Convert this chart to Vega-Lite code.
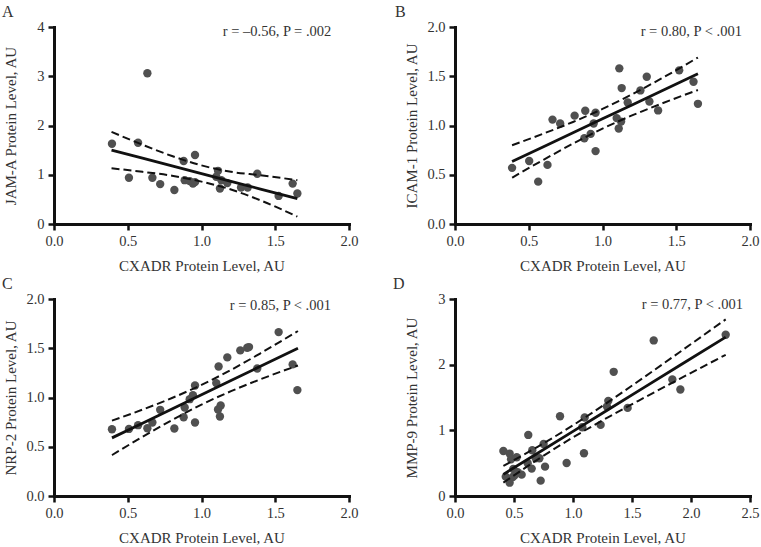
{
  "$schema": "https://vega.github.io/schema/vega-lite/v6.json",
  "background": "white",
  "padding": {"left": 2, "top": 4, "right": 0, "bottom": 0},
  "bounds": "flush",
  "columns": 2,
  "spacing": {"row": 75, "column": 106},
  "config": {
    "view": {"stroke": null},
    "font": "Liberation Serif",
    "axis": {
      "grid": false,
      "domainColor": "#111111",
      "domainWidth": 3,
      "domainCap": "square",
      "tickColor": "#111111",
      "tickWidth": 2.5,
      "tickSize": 6,
      "labelFont": "Liberation Serif",
      "labelFontSize": 14.5,
      "labelColor": "#333333",
      "labelPadding": 4,
      "labelFlush": false,
      "labelOverlap": false,
      "titleFont": "Liberation Serif",
      "titleFontSize": 15,
      "titleFontWeight": "normal",
      "titleColor": "#333333",
      "titleBaseline": "alphabetic"
    },
    "axisX": {"titleY": 46},
    "axisY": {"titleX": -39},
    "title": {"font": "Liberation Serif", "fontSize": 16, "fontWeight": "normal", "anchor": "start", "frame": "group", "color": "#333333", "offset": -1}
  },
  "datasets": {
    "pA": [
      {"x": 0.393, "y": 1.63}, {"x": 0.57, "y": 1.65}, {"x": 0.508, "y": 0.94}, {"x": 0.633, "y": 3.06},
      {"x": 0.667, "y": 0.94}, {"x": 0.72, "y": 0.81}, {"x": 0.816, "y": 0.69}, {"x": 0.879, "y": 1.28},
      {"x": 0.886, "y": 0.89}, {"x": 0.92, "y": 0.87}, {"x": 0.942, "y": 0.82}, {"x": 0.956, "y": 0.85},
      {"x": 0.956, "y": 1.40}, {"x": 1.112, "y": 1.08}, {"x": 1.10, "y": 0.96}, {"x": 1.135, "y": 0.89},
      {"x": 1.125, "y": 0.72}, {"x": 1.175, "y": 0.83}, {"x": 1.268, "y": 0.74}, {"x": 1.313, "y": 0.74},
      {"x": 1.378, "y": 1.02}, {"x": 1.523, "y": 0.57}, {"x": 1.618, "y": 0.82}, {"x": 1.65, "y": 0.62}
    ],
    "lA": [
      {"x": 0.39, "fit": 1.50, "upper": 1.87, "lower": 1.13},
      {"x": 0.6, "fit": 1.338, "upper": 1.61, "lower": 1.06},
      {"x": 0.8, "fit": 1.181, "upper": 1.38, "lower": 0.98},
      {"x": 1.0, "fit": 1.024, "upper": 1.19, "lower": 0.86},
      {"x": 1.2, "fit": 0.867, "upper": 1.06, "lower": 0.70},
      {"x": 1.4, "fit": 0.71, "upper": 0.99, "lower": 0.48},
      {"x": 1.65, "fit": 0.515, "upper": 0.89, "lower": 0.15}
    ],
    "pB": [
      {"x": 0.387, "y": 0.57}, {"x": 0.503, "y": 0.64}, {"x": 0.564, "y": 0.43}, {"x": 0.627, "y": 0.60},
      {"x": 0.661, "y": 1.06}, {"x": 0.713, "y": 1.02}, {"x": 0.811, "y": 1.10}, {"x": 0.877, "y": 0.87},
      {"x": 0.883, "y": 1.15}, {"x": 0.92, "y": 0.915}, {"x": 0.94, "y": 1.02}, {"x": 0.953, "y": 1.13},
      {"x": 0.953, "y": 0.74}, {"x": 1.096, "y": 1.075}, {"x": 1.11, "y": 0.97}, {"x": 1.114, "y": 1.58},
      {"x": 1.126, "y": 1.04}, {"x": 1.13, "y": 1.38}, {"x": 1.171, "y": 1.234}, {"x": 1.257, "y": 1.356},
      {"x": 1.30, "y": 1.495}, {"x": 1.318, "y": 1.244}, {"x": 1.377, "y": 1.153}, {"x": 1.52, "y": 1.56},
      {"x": 1.617, "y": 1.444}, {"x": 1.647, "y": 1.22}
    ],
    "lB": [
      {"x": 0.387, "fit": 0.635, "upper": 0.80, "lower": 0.47},
      {"x": 0.6, "fit": 0.785, "upper": 0.918, "lower": 0.652},
      {"x": 0.8, "fit": 0.926, "upper": 1.036, "lower": 0.816},
      {"x": 1.0, "fit": 1.068, "upper": 1.168, "lower": 0.968},
      {"x": 1.2, "fit": 1.209, "upper": 1.316, "lower": 1.102},
      {"x": 1.4, "fit": 1.35, "upper": 1.478, "lower": 1.222},
      {"x": 1.647, "fit": 1.525, "upper": 1.69, "lower": 1.36}
    ],
    "pC": [
      {"x": 0.393, "y": 0.678}, {"x": 0.508, "y": 0.681}, {"x": 0.57, "y": 0.719}, {"x": 0.633, "y": 0.688},
      {"x": 0.667, "y": 0.746}, {"x": 0.72, "y": 0.875}, {"x": 0.816, "y": 0.685}, {"x": 0.879, "y": 0.80},
      {"x": 0.886, "y": 0.898}, {"x": 0.92, "y": 0.983}, {"x": 0.942, "y": 1.024}, {"x": 0.956, "y": 1.122},
      {"x": 0.956, "y": 0.746}, {"x": 1.10, "y": 1.146}, {"x": 1.112, "y": 0.878}, {"x": 1.116, "y": 1.315},
      {"x": 1.13, "y": 0.919}, {"x": 1.125, "y": 0.807}, {"x": 1.175, "y": 1.407}, {"x": 1.263, "y": 1.478},
      {"x": 1.31, "y": 1.505}, {"x": 1.322, "y": 1.512}, {"x": 1.378, "y": 1.295}, {"x": 1.523, "y": 1.664},
      {"x": 1.618, "y": 1.336}, {"x": 1.65, "y": 1.075}
    ],
    "lC": [
      {"x": 0.393, "fit": 0.59, "upper": 0.765, "lower": 0.415},
      {"x": 0.6, "fit": 0.739, "upper": 0.877, "lower": 0.601},
      {"x": 0.8, "fit": 0.883, "upper": 0.995, "lower": 0.771},
      {"x": 1.0, "fit": 1.028, "upper": 1.128, "lower": 0.928},
      {"x": 1.2, "fit": 1.172, "upper": 1.28, "lower": 1.064},
      {"x": 1.4, "fit": 1.317, "upper": 1.449, "lower": 1.185},
      {"x": 1.654, "fit": 1.50, "upper": 1.675, "lower": 1.325}
    ],
    "pD": [
      {"x": 0.41, "y": 0.686}, {"x": 0.463, "y": 0.646}, {"x": 0.475, "y": 0.559}, {"x": 0.43, "y": 0.295},
      {"x": 0.463, "y": 0.203}, {"x": 0.494, "y": 0.412}, {"x": 0.503, "y": 0.31}, {"x": 0.523, "y": 0.59},
      {"x": 0.531, "y": 0.361}, {"x": 0.565, "y": 0.325}, {"x": 0.616, "y": 0.498}, {"x": 0.621, "y": 0.93},
      {"x": 0.65, "y": 0.417}, {"x": 0.655, "y": 0.697}, {"x": 0.684, "y": 0.574}, {"x": 0.715, "y": 0.574},
      {"x": 0.726, "y": 0.234}, {"x": 0.751, "y": 0.793}, {"x": 0.763, "y": 0.447}, {"x": 0.89, "y": 1.215},
      {"x": 0.946, "y": 0.503}, {"x": 1.079, "y": 1.047}, {"x": 1.093, "y": 0.651}, {"x": 1.099, "y": 1.195},
      {"x": 1.234, "y": 1.083}, {"x": 1.288, "y": 1.362}, {"x": 1.299, "y": 1.449}, {"x": 1.345, "y": 1.891},
      {"x": 1.463, "y": 1.342}, {"x": 1.684, "y": 2.369}, {"x": 1.842, "y": 1.774}, {"x": 1.91, "y": 1.622},
      {"x": 2.294, "y": 2.456}, {"x": 0.49, "y": 0.29}
    ],
    "lD": [
      {"x": 0.41, "fit": 0.33, "upper": 0.457, "lower": 0.203},
      {"x": 0.7, "fit": 0.652, "upper": 0.749, "lower": 0.555},
      {"x": 1.0, "fit": 0.985, "upper": 1.077, "lower": 0.893},
      {"x": 1.3, "fit": 1.318, "upper": 1.434, "lower": 1.202},
      {"x": 1.6, "fit": 1.65, "upper": 1.806, "lower": 1.494},
      {"x": 1.9, "fit": 1.983, "upper": 2.186, "lower": 1.78},
      {"x": 2.294, "fit": 2.42, "upper": 2.69, "lower": 2.15}
    ]
  },
  "concat": [
    {
      "width": 295, "height": 197,
      "title": {"text": "A", "dx": -52},
      "layer": [
        {"data": {"name": "pA"}, "mark": {"type": "circle", "size": 70, "color": "#505050", "opacity": 1},
         "encoding": {
           "x": {"field": "x", "type": "quantitative", "scale": {"domain": [0, 2], "nice": false}, "axis": {"values": [0, 0.5, 1, 1.5, 2], "format": ".1f"}, "title": "CXADR Protein Level, AU"},
           "y": {"field": "y", "type": "quantitative", "scale": {"domain": [0, 4], "nice": false}, "axis": {"values": [0, 1, 2, 3, 4], "format": "d"}, "title": "JAM-A Protein Level, AU"}}},
        {"data": {"name": "lA"}, "mark": {"type": "line", "color": "#111111", "strokeWidth": 2.8},
         "encoding": {"x": {"field": "x", "type": "quantitative"}, "y": {"field": "fit", "type": "quantitative"}}},
        {"data": {"name": "lA"}, "mark": {"type": "line", "color": "#111111", "strokeWidth": 2, "strokeDash": [8, 4], "interpolate": "monotone"},
         "encoding": {"x": {"field": "x", "type": "quantitative"}, "y": {"field": "upper", "type": "quantitative"}}},
        {"data": {"name": "lA"}, "mark": {"type": "line", "color": "#111111", "strokeWidth": 2, "strokeDash": [8, 4], "interpolate": "monotone"},
         "encoding": {"x": {"field": "x", "type": "quantitative"}, "y": {"field": "lower", "type": "quantitative"}}},
        {"data": {"values": [{"x": 1.88, "y": 3.9, "label": "r = –0.56, P = .002"}]},
         "mark": {"type": "text", "align": "right", "baseline": "middle", "fontSize": 14.5, "color": "#333333", "font": "Liberation Serif"},
         "encoding": {"x": {"field": "x", "type": "quantitative"}, "y": {"field": "y", "type": "quantitative"}, "text": {"field": "label"}}}
      ]
    },
    {
      "width": 295, "height": 197,
      "title": {"text": "B", "dx": -60},
      "layer": [
        {"data": {"name": "pB"}, "mark": {"type": "circle", "size": 70, "color": "#505050", "opacity": 1},
         "encoding": {
           "x": {"field": "x", "type": "quantitative", "scale": {"domain": [0, 2], "nice": false}, "axis": {"values": [0, 0.5, 1, 1.5, 2], "format": ".1f"}, "title": "CXADR Protein Level, AU"},
           "y": {"field": "y", "type": "quantitative", "scale": {"domain": [0, 2], "nice": false}, "axis": {"values": [0, 0.5, 1, 1.5, 2], "format": ".1f"}, "title": "ICAM-1 Protein Level, AU"}}},
        {"data": {"name": "lB"}, "mark": {"type": "line", "color": "#111111", "strokeWidth": 2.8},
         "encoding": {"x": {"field": "x", "type": "quantitative"}, "y": {"field": "fit", "type": "quantitative"}}},
        {"data": {"name": "lB"}, "mark": {"type": "line", "color": "#111111", "strokeWidth": 2, "strokeDash": [8, 4], "interpolate": "monotone"},
         "encoding": {"x": {"field": "x", "type": "quantitative"}, "y": {"field": "upper", "type": "quantitative"}}},
        {"data": {"name": "lB"}, "mark": {"type": "line", "color": "#111111", "strokeWidth": 2, "strokeDash": [8, 4], "interpolate": "monotone"},
         "encoding": {"x": {"field": "x", "type": "quantitative"}, "y": {"field": "lower", "type": "quantitative"}}},
        {"data": {"values": [{"x": 1.945, "y": 1.953, "label": "r = 0.80, P < .001"}]},
         "mark": {"type": "text", "align": "right", "baseline": "middle", "fontSize": 14.5, "color": "#333333", "font": "Liberation Serif"},
         "encoding": {"x": {"field": "x", "type": "quantitative"}, "y": {"field": "y", "type": "quantitative"}, "text": {"field": "label"}}}
      ]
    },
    {
      "width": 295, "height": 197,
      "title": {"text": "C", "dx": -52},
      "layer": [
        {"data": {"name": "pC"}, "mark": {"type": "circle", "size": 70, "color": "#505050", "opacity": 1},
         "encoding": {
           "x": {"field": "x", "type": "quantitative", "scale": {"domain": [0, 2], "nice": false}, "axis": {"values": [0, 0.5, 1, 1.5, 2], "format": ".1f"}, "title": "CXADR Protein Level, AU"},
           "y": {"field": "y", "type": "quantitative", "scale": {"domain": [0, 2], "nice": false}, "axis": {"values": [0, 0.5, 1, 1.5, 2], "format": ".1f"}, "title": "NRP-2 Protein Level, AU"}}},
        {"data": {"name": "lC"}, "mark": {"type": "line", "color": "#111111", "strokeWidth": 2.8},
         "encoding": {"x": {"field": "x", "type": "quantitative"}, "y": {"field": "fit", "type": "quantitative"}}},
        {"data": {"name": "lC"}, "mark": {"type": "line", "color": "#111111", "strokeWidth": 2, "strokeDash": [8, 4], "interpolate": "monotone"},
         "encoding": {"x": {"field": "x", "type": "quantitative"}, "y": {"field": "upper", "type": "quantitative"}}},
        {"data": {"name": "lC"}, "mark": {"type": "line", "color": "#111111", "strokeWidth": 2, "strokeDash": [8, 4], "interpolate": "monotone"},
         "encoding": {"x": {"field": "x", "type": "quantitative"}, "y": {"field": "lower", "type": "quantitative"}}},
        {"data": {"values": [{"x": 1.878, "y": 1.926, "label": "r = 0.85, P < .001"}]},
         "mark": {"type": "text", "align": "right", "baseline": "middle", "fontSize": 14.5, "color": "#333333", "font": "Liberation Serif"},
         "encoding": {"x": {"field": "x", "type": "quantitative"}, "y": {"field": "y", "type": "quantitative"}, "text": {"field": "label"}}}
      ]
    },
    {
      "width": 295, "height": 197,
      "title": {"text": "D", "dx": -62},
      "layer": [
        {"data": {"name": "pD"}, "mark": {"type": "circle", "size": 70, "color": "#505050", "opacity": 1},
         "encoding": {
           "x": {"field": "x", "type": "quantitative", "scale": {"domain": [0, 2.5], "nice": false}, "axis": {"values": [0, 0.5, 1, 1.5, 2, 2.5], "format": ".1f"}, "title": "CXADR Protein Level, AU"},
           "y": {"field": "y", "type": "quantitative", "scale": {"domain": [0, 3], "nice": false}, "axis": {"values": [0, 1, 2, 3], "format": "d"}, "title": "MMP-9 Protein Level, AU"}}},
        {"data": {"name": "lD"}, "mark": {"type": "line", "color": "#111111", "strokeWidth": 2.8},
         "encoding": {"x": {"field": "x", "type": "quantitative"}, "y": {"field": "fit", "type": "quantitative"}}},
        {"data": {"name": "lD"}, "mark": {"type": "line", "color": "#111111", "strokeWidth": 2, "strokeDash": [8, 4], "interpolate": "monotone"},
         "encoding": {"x": {"field": "x", "type": "quantitative"}, "y": {"field": "upper", "type": "quantitative"}}},
        {"data": {"name": "lD"}, "mark": {"type": "line", "color": "#111111", "strokeWidth": 2, "strokeDash": [8, 4], "interpolate": "monotone"},
         "encoding": {"x": {"field": "x", "type": "quantitative"}, "y": {"field": "lower", "type": "quantitative"}}},
        {"data": {"values": [{"x": 2.44, "y": 2.91, "label": "r = 0.77, P < .001"}]},
         "mark": {"type": "text", "align": "right", "baseline": "middle", "fontSize": 14.5, "color": "#333333", "font": "Liberation Serif"},
         "encoding": {"x": {"field": "x", "type": "quantitative"}, "y": {"field": "y", "type": "quantitative"}, "text": {"field": "label"}}}
      ]
    }
  ]
}
